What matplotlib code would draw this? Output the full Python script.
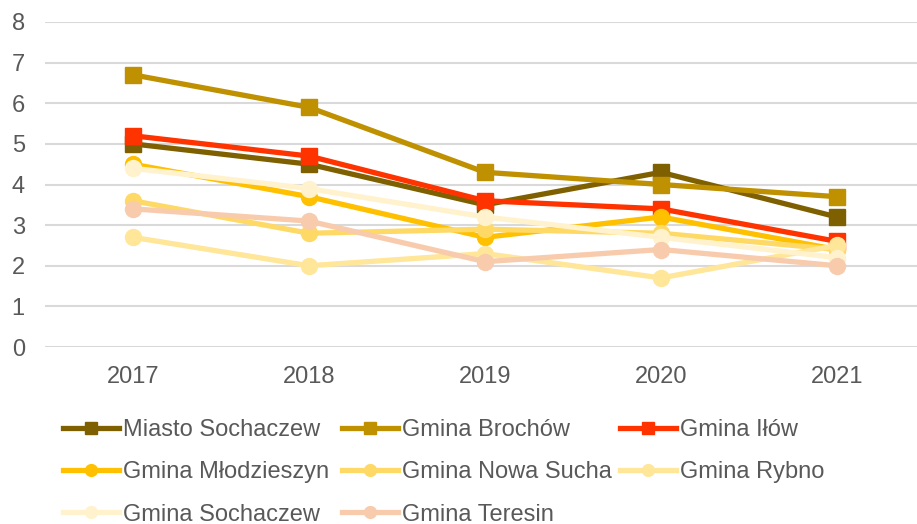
import matplotlib
matplotlib.use("Agg")
import matplotlib.pyplot as plt
from matplotlib.lines import Line2D

years = ["2017", "2018", "2019", "2020", "2021"]
series_names = ["Miasto Sochaczew", "Gmina Brochów", "Gmina Iłów",
                "Gmina Młodzieszyn", "Gmina Nowa Sucha", "Gmina Rybno",
                "Gmina Sochaczew", "Gmina Teresin"]
miasto_sochaczew = [5.0, 4.5, 3.5, 4.3, 3.2]
gmina_brochow = [6.7, 5.9, 4.3, 4.0, 3.7]
gmina_ilow = [5.2, 4.7, 3.6, 3.4, 2.6]
gmina_mlodzieszyn = [4.5, 3.7, 2.7, 3.2, 2.4]
gmina_nowa_sucha = [3.6, 2.8, 2.9, 2.8, 2.4]
gmina_rybno = [2.7, 2.0, 2.3, 1.7, 2.5]
gmina_sochaczew = [4.4, 3.9, 3.2, 2.7, 2.2]
gmina_teresin = [3.4, 3.1, 2.1, 2.4, 2.0]
values = [miasto_sochaczew, gmina_brochow, gmina_ilow, gmina_mlodzieszyn,
          gmina_nowa_sucha, gmina_rybno, gmina_sochaczew, gmina_teresin]
colors = ["#7F6000", "#BF9000", "#FF3300", "#FFC000", "#FFD966", "#FFE699",
          "#FFF2CC", "#F8CBAD"]
markers = ["s", "s", "s", "o", "o", "o", "o", "o"]

plt.rcParams['font.family'] = ['Liberation Sans', 'DejaVu Sans']
TXT = "#595959"
FS = 17

W, H = 917, 524
fig = plt.figure(figsize=(W / 100, H / 100), dpi=100)
ax = fig.add_axes([45 / W, 1 - 347 / H, 880 / W, (347 - 22) / H])

x = list(range(len(years)))
for i, (name, vals) in enumerate(zip(series_names, values)):
    ax.plot(x, vals, color=colors[i], lw=3.8, marker=markers[i], ms=11.5,
            label=name, zorder=3 + i, clip_on=False)

ax.set_xlim(-0.5, 4.5)
ax.set_ylim(0, 8)
ax.set_yticks(range(0, 9))
ax.set_xticks(x)
ax.set_xticklabels(years)
ax.grid(axis="y", color="#D9D9D9", lw=1.5)
ax.set_axisbelow(True)
for s in ax.spines.values():
    s.set_visible(False)
ax.tick_params(axis="both", length=0, labelsize=FS, colors=TXT)
ax.tick_params(axis="y", pad=14.5)
ax.tick_params(axis="x", pad=14)

# legend: three columns
cols = [[0, 3, 6], [1, 4, 7], [2, 5]]
col_x = [63, 342, 620]
for cx, idxs in zip(col_x, cols):
    handles = [Line2D([], [], color=colors[i], lw=3.8, marker=markers[i], ms=8.5)
               for i in idxs]
    labels = [series_names[i] for i in idxs]
    leg = fig.legend(handles, labels, loc="upper left",
                     bbox_to_anchor=(cx / W, 1 - 419 / H), frameon=False,
                     fontsize=FS, handlelength=2.37, handletextpad=0.17,
                     labelspacing=0.86, borderpad=0, borderaxespad=0)
    for t in leg.get_texts():
        t.set_color(TXT)

fig.savefig("out.png", dpi=100)
